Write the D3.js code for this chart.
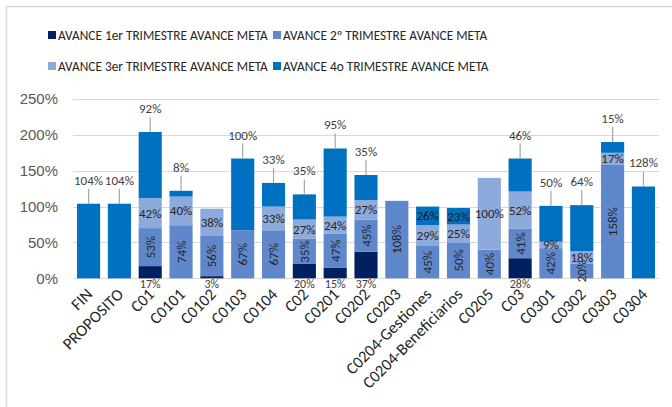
<!DOCTYPE html>
<html>
<head>
<meta charset="utf-8">
<script src="https://cdn.jsdelivr.net/npm/d3@7"></script>
<style>
  body { margin: 0; background: #fff; }
  svg { font-family: Carlito, Calibri, "Liberation Sans Narrow", "Open Sans", sans-serif; }
</style>
</head>
<body>
<div id="chart"></div>
<script>
"use strict";

// categories and series values (percent)
const categories = ["FIN", "PROPOSITO", "C01", "C0101", "C0102", "C0103", "C0104", "C02", "C0201", "C0202",
    "C0203", "C0204-Gestiones", "C0204-Beneficiarios", "C0205", "C03", "C0301", "C0302", "C0303", "C0304"];
const q1 = [0, 0, 17, 0, 3, 0, 0, 20, 15, 37, 0, 0, 0, 0, 28, 0, 0, 0, 0];
const q2 = [0, 0, 53, 74, 56, 67, 67, 35, 47, 45, 108, 45, 50, 40, 41, 42, 20, 158, 0];
const q3 = [0, 0, 42, 40, 38, 0, 33, 27, 24, 27, 0, 29, 25, 100, 52, 9, 18, 17, 0];
const q4 = [104, 104, 92, 8, 0, 100, 33, 35, 95, 35, 0, 26, 23, 0, 46, 50, 64, 15, 128];
const seriesNames = ["AVANCE 1er TRIMESTRE AVANCE META", "AVANCE 2º TRIMESTRE AVANCE META",
    "AVANCE 3er TRIMESTRE AVANCE META", "AVANCE 4o TRIMESTRE AVANCE META"];
const yTicks = [0, 50, 100, 150, 200, 250];
// Q4 labels that sit inside the bar instead of above it
const q4Inside = ["C0204-Gestiones", "C0204-Beneficiarios"];

const colors = ["#002060", "#5F87CB", "#8EA9DB", "#0070C0"];

const width = 672, height = 407;
let svg = d3.select("#chart")
    .append("svg")
    .attr("width", width)
    .attr("height", height);

// chart border
svg.append("rect")
    .attr("x", 6.5).attr("y", 6.5)
    .attr("width", 700).attr("height", 420)
    .attr("fill", "none")
    .attr("stroke", "#D9D9D9")
    .attr("stroke-width", 1.5);

let x = d3.scaleBand()
    .domain(categories)
    .range([73, 659])
    .paddingInner(0.25)
    .paddingOuter(0.13);

let y = d3.scaleLinear()
    .domain([0, 250])
    .range([278.3, 99]);

// gridlines
svg.append("g")
    .selectAll("line")
    .data(yTicks)
    .enter()
    .append("line")
    .attr("x1", 73).attr("x2", 659)
    .attr("y1", d => Math.round(y(d)) + 0.5)
    .attr("y2", d => Math.round(y(d)) + 0.5)
    .attr("stroke", "#D9D9D9")
    .attr("stroke-width", 1);

// y axis labels
let yAxis = svg.append("g")
    .attr("transform", "translate(66,0)")
    .call(d3.axisLeft(y).tickValues(yTicks).tickSize(0).tickPadding(8).tickFormat(d => d + "%"));
yAxis.select(".domain").remove();
yAxis.selectAll("text")
    .attr("fill", "#595959")
    .style("font-size", "15px")
    .style("font-family", null);

// stacked data
let rows = categories.map((c, i) => ({cat: c, q1: q1[i], q2: q2[i], q3: q3[i], q4: q4[i]}));
let keys = ["q1", "q2", "q3", "q4"];
let stacked = d3.stack().keys(keys)(rows);

stacked.forEach((layer, k) => {
    svg.append("g")
        .selectAll("rect")
        .data(layer.filter(d => d[1] - d[0] > 0))
        .enter()
        .append("rect")
        .attr("x", d => x(d.data.cat))
        .attr("y", d => y(d[1]))
        .attr("width", x.bandwidth())
        .attr("height", d => y(d[0]) - y(d[1]))
        .attr("fill", colors[k]);
});

const labelColor = "#404040";
let labels = svg.append("g")
    .style("font-size", "13px")
    .attr("fill", labelColor);

// Q1 labels: below the axis
labels.selectAll(".l1")
    .data(stacked[0].filter(d => d[1] - d[0] > 0))
    .enter()
    .append("text")
    .attr("x", d => x(d.data.cat) + x.bandwidth() / 2)
    .attr("y", y(0) + 10)
    .attr("text-anchor", "middle")
    .style("font-size", "12px")
    .text(d => d.data.q1 + "%");

// Q2 labels: vertical in the segment
labels.selectAll(".l2")
    .data(stacked[1].filter(d => d[1] - d[0] > 0))
    .enter()
    .append("text")
    .attr("transform", d => "translate(" + (x(d.data.cat) + x.bandwidth() / 2 + 4.5) + "," +
        ((y(d[0]) + y(d[1])) / 2) + ") rotate(-90)")
    .attr("text-anchor", "middle")
    .attr("fill", "#262626")
    .text(d => d.data.q2 + "%");

// Q3 labels: horizontal in the segment
labels.selectAll(".l3")
    .data(stacked[2].filter(d => d[1] - d[0] > 0))
    .enter()
    .append("text")
    .attr("x", d => x(d.data.cat) + x.bandwidth() / 2)
    .attr("y", d => (y(d[0]) + y(d[1])) / 2 + 4.5)
    .attr("text-anchor", "middle")
    .attr("fill", "#262626")
    .text(d => d.data.q3 + "%");

// Q4 labels
let l4 = stacked[3].filter(d => d[1] - d[0] > 0);
labels.selectAll(".l4in")
    .data(l4.filter(d => q4Inside.includes(d.data.cat)))
    .enter()
    .append("text")
    .attr("x", d => x(d.data.cat) + x.bandwidth() / 2)
    .attr("y", d => (y(d[0]) + y(d[1])) / 2 + 4.5)
    .attr("text-anchor", "middle")
    .attr("fill", "#1a1a1a")
    .text(d => d.data.q4 + "%");

let outside = l4.filter(d => !q4Inside.includes(d.data.cat));
labels.selectAll(".lead")
    .data(outside)
    .enter()
    .append("line")
    .attr("x1", d => x(d.data.cat) + x.bandwidth() / 2)
    .attr("x2", d => x(d.data.cat) + x.bandwidth() / 2)
    .attr("y1", d => y(d[1]) - 15)
    .attr("y2", d => y(d[1]))
    .attr("stroke", "#A6A6A6")
    .attr("stroke-width", 1.2);
labels.selectAll(".l4out")
    .data(outside)
    .enter()
    .append("text")
    .attr("x", d => x(d.data.cat) + x.bandwidth() / 2)
    .attr("y", d => y(d[1]) - 19)
    .attr("text-anchor", "middle")
    .text(d => d.data.q4 + "%");

// category labels
svg.append("g")
    .selectAll("text")
    .data(categories)
    .enter()
    .append("text")
    .attr("transform", d => "translate(" + (x(d) + x.bandwidth() / 2 + 5) + "," + (y(0) + 17) + ") rotate(-45)")
    .attr("text-anchor", "end")
    .attr("fill", "#262626")
    .style("font-size", "16.5px")
    .text(d => d);

// legend
let legendPos = [[48, 35], [273, 35], [48, 66], [273, 66]];
let legend = svg.append("g")
    .selectAll("g")
    .data(seriesNames)
    .enter()
    .append("g")
    .attr("transform", (d, i) => "translate(" + legendPos[i][0] + "," + legendPos[i][1] + ")");
legend.append("rect")
    .attr("x", 0).attr("y", -4)
    .attr("width", 8).attr("height", 8)
    .attr("fill", (d, i) => colors[i]);
legend.append("text")
    .attr("x", 10)
    .attr("y", 5)
    .attr("fill", "#262626")
    .style("font-size", "13.3px")
    .text(d => d);
</script>
</body>
</html>
